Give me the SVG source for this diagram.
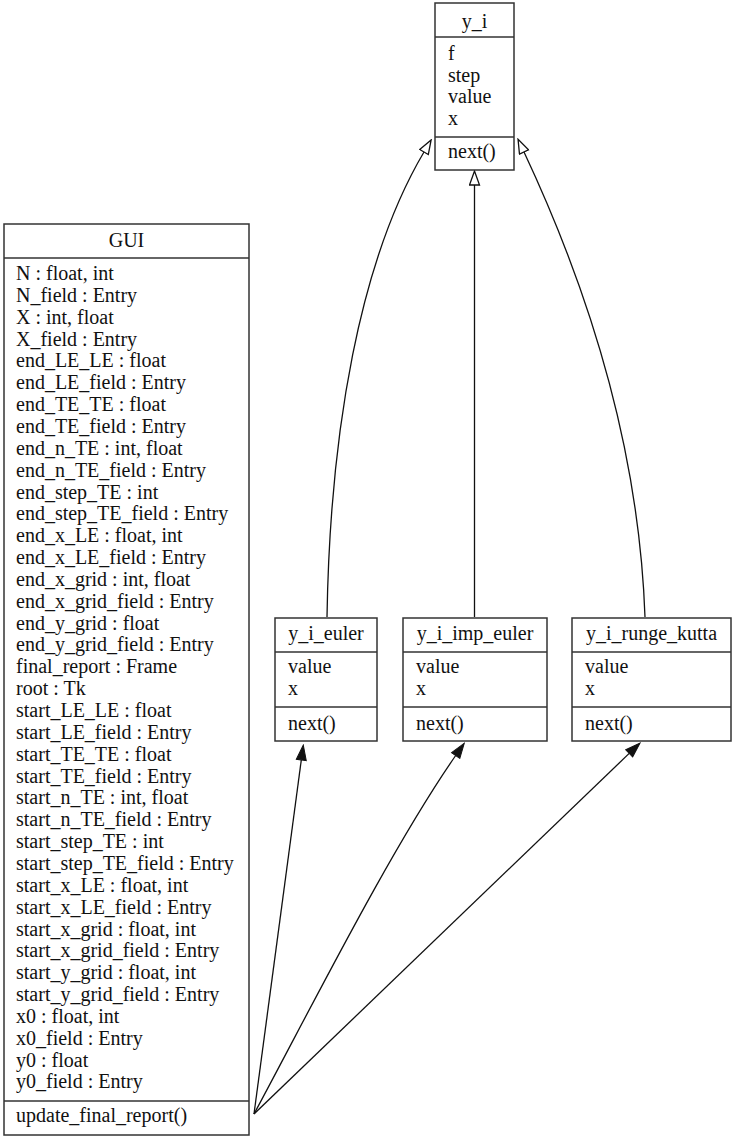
<svg xmlns="http://www.w3.org/2000/svg" width="736" height="1140" viewBox="0 0 736 1140">
<style>
.box{fill:#fff;stroke:#333;stroke-width:1.5}
.sep{stroke:#333;stroke-width:1.5}
text{font-family:"Liberation Serif","Times New Roman",serif;font-size:20px;fill:#111}
.c{text-anchor:middle}
.edge{fill:none;stroke:#111;stroke-width:1.3}
</style>
<defs>
<marker id="hollow" markerUnits="userSpaceOnUse" markerWidth="16" markerHeight="12" refX="0" refY="5" orient="auto" viewBox="-1 -1 16 12">
<path d="M0,0 L14,5 L0,10 Z" fill="#fff" stroke="#111" stroke-width="1.3"/>
</marker>
<marker id="filled" markerUnits="userSpaceOnUse" markerWidth="17" markerHeight="12" refX="0" refY="5" orient="auto" viewBox="-1 -1 17 12">
<path d="M0,0 L15,5 L0,10 Z" fill="#111" stroke="#111" stroke-width="1"/>
</marker>
</defs>
<rect width="736" height="1140" fill="#fff"/>

<g id="connectors">
<path class="edge" d="M327,617 C330,430 360,260 424,152" marker-end="url(#hollow)"/>
<path class="edge" d="M474.5,617 L474.5,185" marker-end="url(#hollow)"/>
<path class="edge" d="M645,617 C638,420 570,250 524,152" marker-end="url(#hollow)"/>
<path class="edge" d="M254,1114 L301.3,759.9" marker-end="url(#filled)"/>
<path class="edge" d="M254,1114 C310,1010 390,850 455.7,755.5" marker-end="url(#filled)"/>
<path class="edge" d="M254,1114 L629.2,753.4" marker-end="url(#filled)"/>
</g>

<g id="y_i">
<rect class="box" x="435" y="3" width="79" height="167"/>
<line class="sep" x1="435" y1="37" x2="514" y2="37"/>
<line class="sep" x1="435" y1="137" x2="514" y2="137"/>
<text class="c" x="474.5" y="28">y_i</text>
<text x="448" y="60">f</text>
<text x="448" y="81.7">step</text>
<text x="448" y="103.4">value</text>
<text x="448" y="125">x</text>
<text x="448" y="158">next()</text>
</g>

<g id="y_i_euler">
<rect class="box" x="275" y="618" width="102" height="123"/>
<line class="sep" x1="275" y1="652" x2="377" y2="652"/>
<line class="sep" x1="275" y1="707" x2="377" y2="707"/>
<text class="c" x="326" y="640">y_i_euler</text>
<text x="288" y="673">value</text>
<text x="288" y="695">x</text>
<text x="288" y="730">next()</text>
</g>

<g id="y_i_imp_euler">
<rect class="box" x="403" y="618" width="144" height="123"/>
<line class="sep" x1="403" y1="652" x2="547" y2="652"/>
<line class="sep" x1="403" y1="707" x2="547" y2="707"/>
<text class="c" x="475" y="640">y_i_imp_euler</text>
<text x="416" y="673">value</text>
<text x="416" y="695">x</text>
<text x="416" y="730">next()</text>
</g>

<g id="y_i_runge_kutta">
<rect class="box" x="572" y="618" width="159" height="123"/>
<line class="sep" x1="572" y1="652" x2="731" y2="652"/>
<line class="sep" x1="572" y1="707" x2="731" y2="707"/>
<text class="c" x="651.5" y="640">y_i_runge_kutta</text>
<text x="585" y="673">value</text>
<text x="585" y="695">x</text>
<text x="585" y="730">next()</text>
</g>

<g id="GUI">
<rect class="box" x="4" y="224" width="245" height="911"/>
<line class="sep" x1="4" y1="258" x2="249" y2="258"/>
<line class="sep" x1="4" y1="1101" x2="249" y2="1101"/>
<text class="c" x="126.5" y="247">GUI</text>
<text x="16" y="280">N : float, int</text>
<text x="16" y="301.85">N_field : Entry</text>
<text x="16" y="323.7">X : int, float</text>
<text x="16" y="345.55">X_field : Entry</text>
<text x="16" y="367.4">end_LE_LE : float</text>
<text x="16" y="389.25">end_LE_field : Entry</text>
<text x="16" y="411.1">end_TE_TE : float</text>
<text x="16" y="432.95">end_TE_field : Entry</text>
<text x="16" y="454.8">end_n_TE : int, float</text>
<text x="16" y="476.65">end_n_TE_field : Entry</text>
<text x="16" y="498.5">end_step_TE : int</text>
<text x="16" y="520.35">end_step_TE_field : Entry</text>
<text x="16" y="542.2">end_x_LE : float, int</text>
<text x="16" y="564.05">end_x_LE_field : Entry</text>
<text x="16" y="585.9">end_x_grid : int, float</text>
<text x="16" y="607.75">end_x_grid_field : Entry</text>
<text x="16" y="629.6">end_y_grid : float</text>
<text x="16" y="651.45">end_y_grid_field : Entry</text>
<text x="16" y="673.3">final_report : Frame</text>
<text x="16" y="695.15">root : Tk</text>
<text x="16" y="717">start_LE_LE : float</text>
<text x="16" y="738.85">start_LE_field : Entry</text>
<text x="16" y="760.7">start_TE_TE : float</text>
<text x="16" y="782.55">start_TE_field : Entry</text>
<text x="16" y="804.4">start_n_TE : int, float</text>
<text x="16" y="826.25">start_n_TE_field : Entry</text>
<text x="16" y="848.1">start_step_TE : int</text>
<text x="16" y="869.95">start_step_TE_field : Entry</text>
<text x="16" y="891.8">start_x_LE : float, int</text>
<text x="16" y="913.65">start_x_LE_field : Entry</text>
<text x="16" y="935.5">start_x_grid : float, int</text>
<text x="16" y="957.35">start_x_grid_field : Entry</text>
<text x="16" y="979.2">start_y_grid : float, int</text>
<text x="16" y="1001.05">start_y_grid_field : Entry</text>
<text x="16" y="1022.9">x0 : float, int</text>
<text x="16" y="1044.75">x0_field : Entry</text>
<text x="16" y="1066.6">y0 : float</text>
<text x="16" y="1088.45">y0_field : Entry</text>
<text x="16" y="1122">update_final_report()</text>
</g>
</svg>
